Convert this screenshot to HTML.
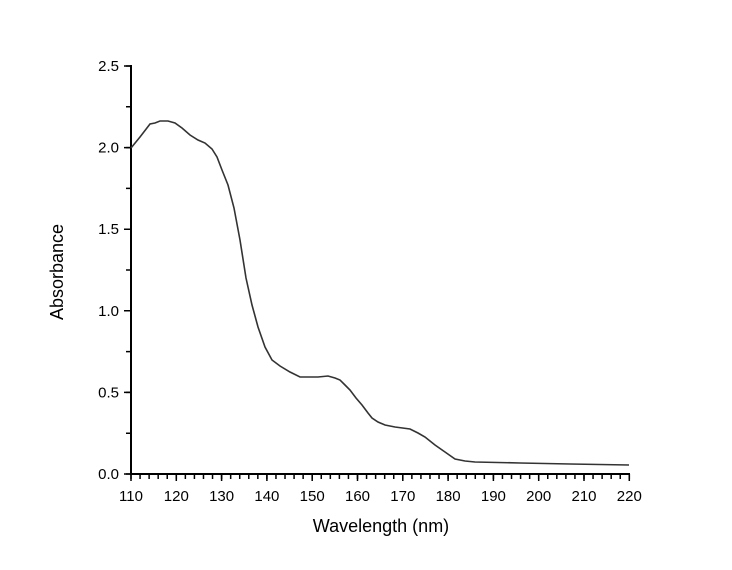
<!DOCTYPE html>
<html><head><style>body{margin:0;background:#fff}svg{display:block}text{font-family:"Liberation Sans",Arial,sans-serif}</style></head>
<body>
<svg width="732" height="570" xmlns="http://www.w3.org/2000/svg">
<g stroke="#000" fill="none">
<line x1="131" y1="65" x2="131" y2="475" stroke-width="2"/>
<line x1="130" y1="474" x2="630" y2="474" stroke-width="2"/>
<line x1="130.25" y1="476.5" x2="630.5" y2="476.5" stroke-width="5" stroke-dasharray="1.5 7.56"/>
<line x1="128.5" y1="474.75" x2="128.5" y2="64" stroke-width="5" stroke-dasharray="1.5 39.3"/>
<path stroke-width="1.5" d="M131,474V481M176.3,474V481M221.6,474V481M266.9,474V481M312.2,474V481M357.5,474V481M402.8,474V481M448.1,474V481M493.4,474V481M538.7,474V481M584,474V481M629.3,474V481M124,474H131M124,392.4H131M124,310.8H131M124,229.2H131M124,147.6H131M124,66H131"/>
</g>
<g font-size="15" fill="#000" text-anchor="middle">
<text x="131" y="501">110</text><text x="176.3" y="501">120</text><text x="221.6" y="501">130</text><text x="266.9" y="501">140</text><text x="312.2" y="501">150</text><text x="357.5" y="501">160</text><text x="402.8" y="501">170</text><text x="448.1" y="501">180</text><text x="493.4" y="501">190</text><text x="538.7" y="501">200</text><text x="584" y="501">210</text><text x="629.3" y="501">220</text>
</g>
<g font-size="15" fill="#000" text-anchor="end">
<text x="119" y="479">0.0</text><text x="119" y="397.4">0.5</text><text x="119" y="315.8">1.0</text><text x="119" y="234.2">1.5</text><text x="119" y="152.6">2.0</text><text x="119" y="71">2.5</text>
</g>
<polyline fill="none" stroke="#333" stroke-width="1.6" points="131,148 140,137 150,124 155,123 160,121 168,121 175,123 182,128 190,135 198,140 205,143 212,149 217,157 222,170 228,185 234,208 240,240 246,278 252,305 258,327 265,347 272,360 280,366 290,372 300,377 318,377 328,376 335,378 340,380 345,385 350,390 356,398 362,405 368,413 372,418 378,422 385,425 395,427 410,429 418,433 425,437 435,445 445,452 455,459 465,461 475,462 520,463 570,464 629,465"/>
<text x="381" y="532" font-size="18" text-anchor="middle">Wavelength (nm)</text>
<text transform="translate(63,272) rotate(-90)" font-size="18" text-anchor="middle">Absorbance</text>
</svg>
</body></html>
